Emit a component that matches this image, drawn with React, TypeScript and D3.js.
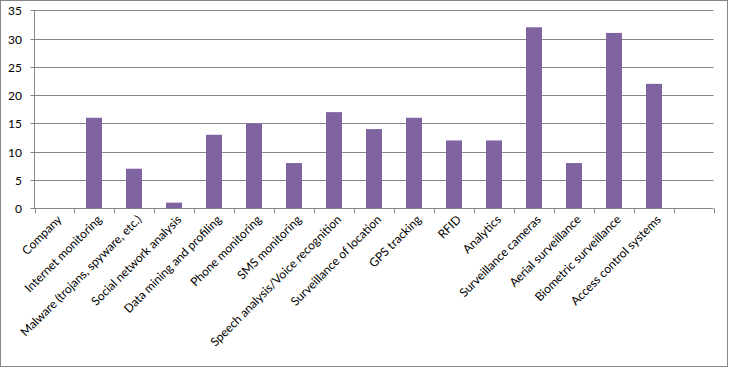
import React from 'react';
import * as d3 from 'd3';

// categories as they appear on the x axis (last slot is empty in the original)
const categories = [
  'Company',
  'Internet monitoring',
  'Malware (trojans, spyware, etc.)',
  'Social network analysis',
  'Data mining and profiling',
  'Phone monitoring',
  'SMS monitoring',
  'Speech analysis/Voice recognition',
  'Surveillance of location',
  'GPS tracking',
  'RFID',
  'Analytics',
  'Surveillance cameras',
  'Aerial surveillance',
  'Biometric surveillance',
  'Access control systems',
  '',
];
const values = [0, 16, 7, 1, 13, 15, 8, 17, 14, 16, 12, 12, 32, 8, 31, 22, 0];
const yTicks = [0, 5, 10, 15, 20, 25, 30, 35];

const W = 729;
const H = 369;
const grid = '#868686';
const font = 'Lato, "Open Sans", sans-serif';

const App = () => {
  const margin = { left: 34.5, right: 15.5, top: 10.3, bottom: 160.7 };

  const x = d3.scaleBand<number>()
    .domain(d3.range(categories.length))
    .range([margin.left, W - margin.right])
    .paddingInner(0.6)
    .paddingOuter(0.3);

  const y = d3.scaleLinear()
    .domain([0, 35])
    .range([H - margin.bottom, margin.top]);

  const step = x.step();
  const x0 = margin.left;
  const x1 = W - margin.right;
  const y0 = y(0);
  // tick marks sit on the boundaries between categories
  const boundaries = d3.range(categories.length + 1).map(i => x0 + i * (x1 - x0) / categories.length);

  return (
    <svg width={W} height={H} style={{ position: 'absolute', left: 0, top: 0 }}>
      <rect x={0.5} y={0.5} width={W - 2} height={H - 3} fill="white" stroke={grid} />

      {/* horizontal gridlines + y labels */}
      {yTicks.map(t => (
        <g key={t}>
          <line x1={x0 - 4} x2={x1} y1={Math.round(y(t)) + 0.5} y2={Math.round(y(t)) + 0.5} stroke={grid} />
          <text x={22} y={Math.round(y(t)) + 4.5} textAnchor="end" fontFamily={font} fontSize={12} fill="#000">{t}</text>
        </g>
      ))}

      {/* y axis */}
      <line x1={x0} x2={x0} y1={y(35)} y2={y0} stroke={grid} />

      {/* bars */}
      {values.map((v, i) => v > 0 && (
        <rect
          key={i}
          x={Math.round(x(i) as number)}
          y={y(v)}
          width={Math.round(x.bandwidth())}
          height={y0 - y(v)}
          fill="#8064A2"
        />
      ))}

      {/* x axis ticks */}
      {boundaries.map((b, i) => (
        <line key={i} x1={Math.round(b) + 0.5} x2={Math.round(b) + 0.5} y1={y0} y2={y0 + 5} stroke={grid} />
      ))}

      {/* category labels */}
      {categories.map((c, i) => (
        <text
          key={i}
          transform={`translate(${x0 + (i + 0.5) * step + 8},${y0 + 12}) rotate(-45)`}
          textAnchor="end"
          fontFamily={font}
          fontSize={12}
          fill="#000"
        >
          {c}
        </text>
      ))}
    </svg>
  );
};

export default App;
